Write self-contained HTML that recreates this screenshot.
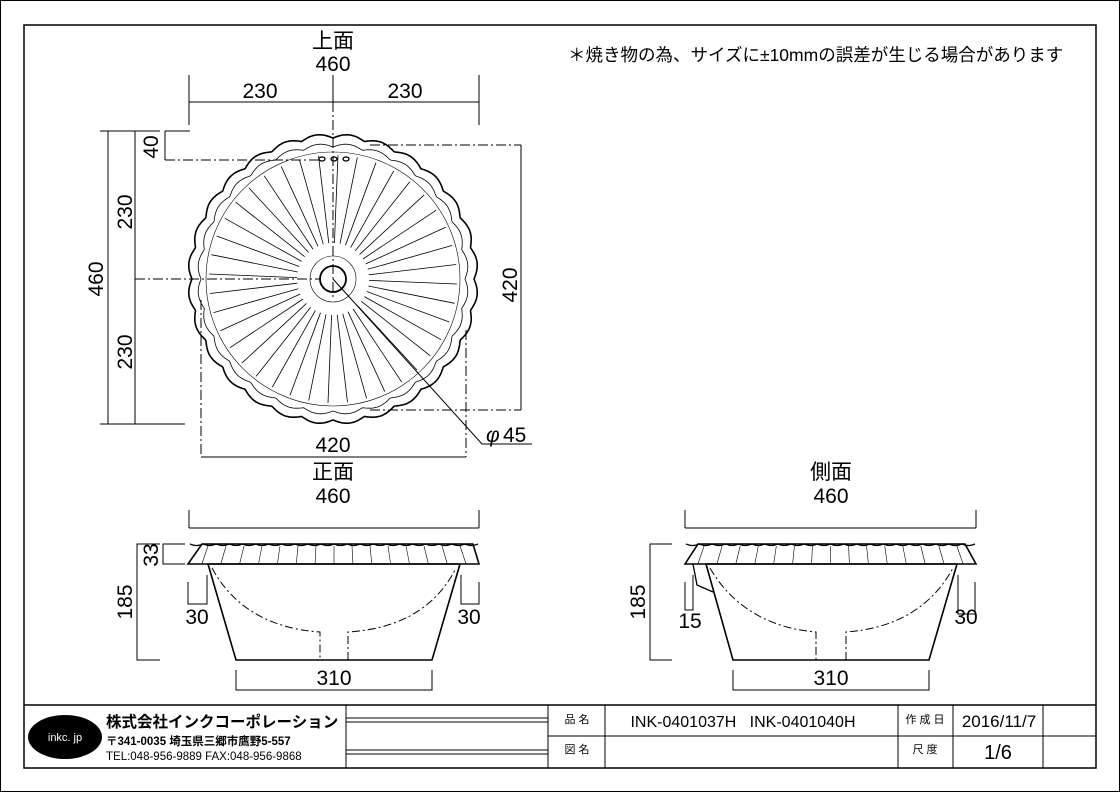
<!DOCTYPE html>
<html><head><meta charset="utf-8"><style>
html,body{margin:0;padding:0;background:#fff}
svg{display:block}
text{font-family:"Liberation Sans","Noto Sans CJK JP",sans-serif;fill:#000}
</style></head><body>
<svg id="s" width="1120" height="792" viewBox="0 0 1120 792" xmlns="http://www.w3.org/2000/svg">
<rect x="0.5" y="0.5" width="1119" height="791" fill="#fff" stroke="#000" stroke-width="1"/>
<rect x="24" y="25" width="1072" height="743" fill="none" stroke="#000" stroke-width="1.5"/>

<g stroke="#000" stroke-width="1" fill="none">
<line x1="189" y1="102" x2="479" y2="102"/>
<line x1="189" y1="75" x2="189" y2="125"/><line x1="479" y1="75" x2="479" y2="125"/>
<line x1="333" y1="75" x2="333" y2="102"/>
<line x1="333" y1="102" x2="333" y2="300" stroke-dasharray="10,3,2,3"/>
<line x1="108" y1="131" x2="108" y2="424"/><line x1="100" y1="131" x2="160" y2="131"/><line x1="100" y1="424" x2="185" y2="424"/>
<line x1="135" y1="131" x2="135" y2="424"/>
<line x1="135" y1="279" x2="320" y2="279" stroke-dasharray="10,3,2,3"/>
<line x1="165" y1="131" x2="165" y2="160"/><line x1="165" y1="131" x2="190" y2="131"/>
<line x1="165" y1="160" x2="322" y2="160" stroke-dasharray="10,3,2,3"/>
<line x1="521" y1="145" x2="521" y2="410"/>
<line x1="370" y1="145" x2="521" y2="145" stroke-dasharray="10,3,2,3"/>
<line x1="370" y1="410" x2="521" y2="410" stroke-dasharray="10,3,2,3"/>
<line x1="201" y1="457" x2="466" y2="457"/>
<line x1="201" y1="300" x2="201" y2="457" stroke-dasharray="10,3,2,3"/>
<line x1="466" y1="330" x2="466" y2="457" stroke-dasharray="10,3,2,3"/>
<polyline points="333,279 482,444 532,444"/>
</g>
<g id="top" stroke="#000" fill="none"></g>

<g stroke="#000" fill="none" stroke-width="1">
<line x1="189" y1="528" x2="479" y2="528"/><line x1="189" y1="510" x2="189" y2="528"/><line x1="479" y1="510" x2="479" y2="528"/>
<polyline points="185,544 163,544 163,564 185,564"/>
<polyline points="160,544 137,544 137,660 160,660"/>
<polyline points="188,582 188,604 207,604 207,575"/>
<polyline points="461,575 461,604 479,604 479,582"/>
<polyline points="236,670 236,690 432,690 432,670"/>
<polygon points="202,544 473,544 479,564 188,564" stroke-width="1.6" fill="#fff"/>
<polygon points="208,564 460,564 432,660 236,660" stroke-width="1.6"/>
<path d="M212,568 C240,620 290,630 320,632 L320,660 M348,660 L348,632 C380,630 430,620 456,568" stroke-dasharray="8,3,2,3"/>
<line x1="685" y1="528" x2="976" y2="528"/><line x1="685" y1="510" x2="685" y2="528"/><line x1="976" y1="510" x2="976" y2="528"/>
<polyline points="672,544 650,544 650,660 672,660"/>
<polyline points="685,582 685,610 693,610 693,575"/>
<polyline points="958,575 958,614 975,614 975,582"/>
<polyline points="733,670 733,690 929,690 929,670"/>
<polygon points="698,544 965,544 976,564 685,564" stroke-width="1.6" fill="#fff"/>
<polygon points="706,564 957,564 929,660 733,660" stroke-width="1.6"/>
<polyline points="693,564 697,585 713,592" stroke-width="1.3"/>
<path d="M710,568 C740,620 790,630 816,632 L816,660 M846,660 L846,632 C875,630 925,620 953,568" stroke-dasharray="8,3,2,3"/>
</g>
<g id="rims" stroke="#000" fill="none" stroke-width="0.6"></g>

<g font-size="21">
<text x="333" y="48" text-anchor="middle">上面</text>
<text x="333" y="71" text-anchor="middle">460</text>
<text x="260" y="98" text-anchor="middle">230</text>
<text x="405" y="98" text-anchor="middle">230</text>
<text transform="translate(158,147) rotate(-90)" text-anchor="middle">40</text>
<text transform="translate(132,212) rotate(-90)" text-anchor="middle">230</text>
<text transform="translate(132,352) rotate(-90)" text-anchor="middle">230</text>
<text transform="translate(103,279) rotate(-90)" text-anchor="middle">460</text>
<text transform="translate(517,285) rotate(-90)" text-anchor="middle">420</text>
<text x="333" y="452" text-anchor="middle">420</text>
<text x="486" y="442" font-style="italic">φ</text><text x="503" y="442">45</text>
<text x="333" y="479" text-anchor="middle">正面</text>
<text x="333" y="503" text-anchor="middle">460</text>
<text transform="translate(158,555) rotate(-90)" text-anchor="middle">33</text>
<text transform="translate(132,602) rotate(-90)" text-anchor="middle">185</text>
<text x="197" y="624" text-anchor="middle">30</text>
<text x="469" y="624" text-anchor="middle">30</text>
<text x="334" y="685" text-anchor="middle">310</text>
<text x="831" y="479" text-anchor="middle">側面</text>
<text x="831" y="503" text-anchor="middle">460</text>
<text transform="translate(645,602) rotate(-90)" text-anchor="middle">185</text>
<text x="690" y="628" text-anchor="middle">15</text>
<text x="966" y="624" text-anchor="middle">30</text>
<text x="831" y="685" text-anchor="middle">310</text>
</g>
<text x="568" y="61" font-size="17.5">＊焼き物の為、サイズに±10mmの誤差が生じる場合があります</text>

<g stroke="#000" fill="none" stroke-width="1">
<line x1="24" y1="705" x2="1096" y2="705" stroke-width="1.5"/>
<line x1="346" y1="705" x2="346" y2="768"/>
<line x1="548" y1="705" x2="548" y2="768"/>
<line x1="605" y1="705" x2="605" y2="768"/>
<line x1="898" y1="705" x2="898" y2="768"/>
<line x1="953" y1="705" x2="953" y2="768"/>
<line x1="1043" y1="705" x2="1043" y2="768"/>
<line x1="548" y1="736" x2="1096" y2="736"/>
<line x1="346" y1="718" x2="548" y2="718"/><line x1="346" y1="722" x2="548" y2="722"/>
<line x1="346" y1="750" x2="548" y2="750"/><line x1="346" y1="754" x2="548" y2="754"/>
</g>
<ellipse cx="65" cy="737" rx="37" ry="22" fill="#000"/>
<text x="65" y="741" font-size="11" text-anchor="middle" style="fill:#fff">inkc. jp</text>
<text x="106" y="727" font-size="15.5" font-weight="bold">株式会社インクコーポレーション</text>
<text x="106" y="745" font-size="11.5" font-weight="bold">〒341-0035 埼玉県三郷市鷹野5-557</text>
<text x="106" y="760" font-size="11.5">TEL:048-956-9889  FAX:048-956-9868</text>
<text x="577" y="723" font-size="11" text-anchor="middle">品 名</text>
<text x="577" y="753" font-size="11" text-anchor="middle">図 名</text>
<text x="743" y="727" font-size="16" text-anchor="middle" xml:space="preserve">INK-0401037H   INK-0401040H</text>
<text x="925" y="723" font-size="11" text-anchor="middle">作 成 日</text>
<text x="925" y="753" font-size="11" text-anchor="middle">尺 度</text>
<text x="999" y="727" font-size="17" text-anchor="middle">2016/11/7</text>
<text x="998" y="759" font-size="20" text-anchor="middle">1/6</text>
</svg>
<script>
(function(){
var NS="http://www.w3.org/2000/svg";
function el(p,t,a){var e=document.createElementNS(NS,t);for(var k in a)e.setAttribute(k,a[k]);p.appendChild(e);return e;}
var g=document.getElementById('top');var cx=333,cy=279;
function scallop(R,amp,n,sw){var d="";for(var i=0;i<=720;i++){var a=i/720*2*Math.PI;var ph=(a*n/(2*Math.PI))%1;var r=R+amp*Math.sin(Math.PI*ph);var x=cx+r*Math.cos(a),y=cy+r*Math.sin(a);d+=(i?"L":"M")+x.toFixed(1)+","+y.toFixed(1);}el(g,'path',{d:d+"Z","stroke-width":sw,fill:"none"});}
scallop(141,4,28,1.6);
scallop(132,3.5,28,0.8);
el(g,'circle',{cx:cx,cy:cy,r:127,"stroke-width":0.6});
var N=40;for(var i=0;i<N;i++){var a=i/N*2*Math.PI+0.04;el(g,'line',{x1:(cx+36*Math.cos(a)).toFixed(1),y1:(cy+36*Math.sin(a)).toFixed(1),x2:(cx+124*Math.cos(a)).toFixed(1),y2:(cy+124*Math.sin(a)).toFixed(1),"stroke-width":0.8});}
el(g,'circle',{cx:cx,cy:cy,r:23,"stroke-width":0.6});
el(g,'circle',{cx:cx,cy:cy,r:13,"stroke-width":1.8});
[322,334,346].forEach(function(x){el(g,'ellipse',{cx:x,cy:159,rx:3,ry:2,"stroke-width":1.3});});
var r=document.getElementById('rims');
function rim(x0,x1,n){var d="";var W=x1-x0;for(var i=0;i<=200;i++){var x=x0+W*i/200;var y=544+1.5*Math.abs(Math.sin(Math.PI*n*i/200));d+=(i?"L":"M")+x.toFixed(1)+","+y.toFixed(1);}el(r,'path',{d:d,"stroke-width":1.3});
for(var k=1;k<16;k++){var t=k/16;var xt=x0+W*t;var off=(t-0.5)*14;el(r,'line',{x1:xt.toFixed(1),y1:546,x2:(xt+off).toFixed(1),y2:564});}}
rim(190,478,22);
rim(686,975,22);
})();
</script>
</body></html>
